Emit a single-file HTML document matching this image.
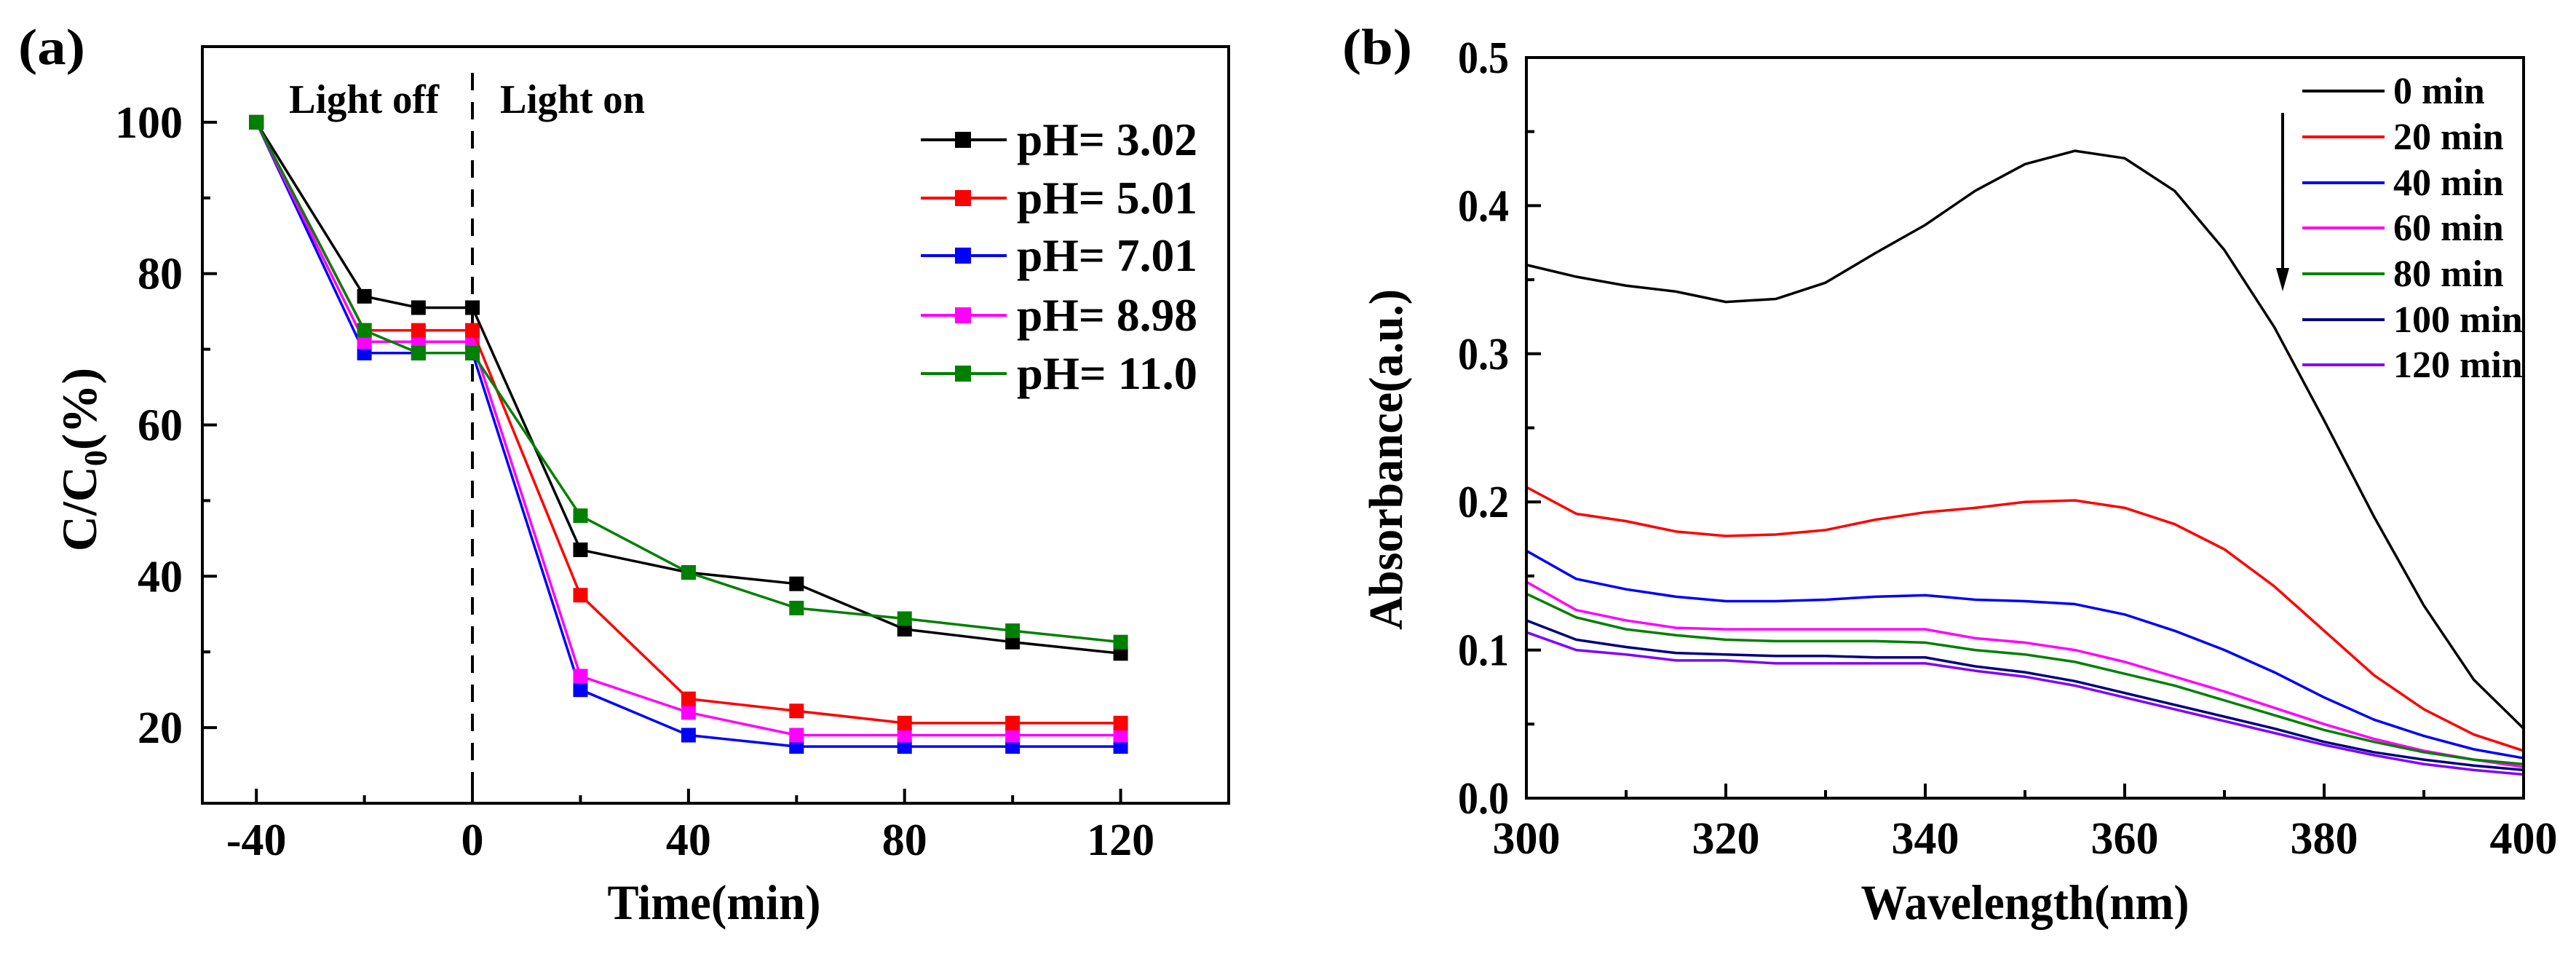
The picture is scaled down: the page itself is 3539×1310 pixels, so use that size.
<!DOCTYPE html>
<html><head><meta charset="utf-8"><style>
html,body{margin:0;padding:0;background:#fff;overflow:hidden;}
svg{display:block;}
text{font-family:"Liberation Serif",serif;font-weight:bold;fill:#000;}
</style></head><body>
<svg id="fig" width="3539" height="1310" viewBox="0 0 3539 1310" xmlns="http://www.w3.org/2000/svg"></svg>
<script>
// ---- Panel (a) data ----
const timeCats = [-40,-20,-10,0,20,40,60,80,100,120];
const seriesNamesA = ["pH= 3.02","pH= 5.01","pH= 7.01","pH= 8.98","pH= 11.0"];
const pH302 = [100,77,75.5,75.5,43.5,40.5,39,33,31.3,29.8];
const pH501 = [100,72.5,72.5,72.5,37.5,23.8,22.2,20.6,20.6,20.6];
const pH701 = [100,69.5,69.5,69.5,25,19,17.5,17.5,17.5,17.5];
const pH898 = [100,71,71,71,26.8,22,19,19,19,19];
const pH110 = [100,72.5,69.5,69.5,48,40.5,35.8,34.4,32.8,31.3];
const xTicksA = [-40,0,40,80,120];
const yTicksA = [20,40,60,80,100];
// ---- Panel (b) data ----
const wavelengths = [300,305,310,315,320,325,330,335,340,345,350,355,360,365,370,375,380,385,390,395,400];
const seriesNamesB = ["0 min","20 min","40 min","60 min","80 min","100 min","120 min"];
const abs0 = [.36,.352,.346,.342,.335,.337,.348,.368,.387,.41,.428,.437,.432,.41,.37,.318,.255,.19,.13,.08,.047];
const abs20 = [.21,.192,.187,.18,.177,.178,.181,.188,.193,.196,.2,.201,.196,.185,.168,.143,.113,.083,.06,.043,.032];
const abs40 = [.167,.148,.141,.136,.133,.133,.134,.136,.137,.134,.133,.131,.124,.113,.1,.085,.068,.053,.042,.033,.027];
const abs60 = [.146,.127,.12,.115,.114,.114,.114,.114,.114,.108,.105,.1,.092,.082,.072,.061,.05,.04,.032,.026,.021];
const abs80 = [.138,.122,.114,.11,.107,.106,.106,.106,.105,.1,.097,.092,.084,.076,.066,.056,.046,.038,.031,.026,.023];
const abs100 = [.12,.107,.102,.098,.097,.096,.096,.095,.095,.089,.085,.079,.071,.063,.055,.047,.038,.031,.026,.022,.019];
const abs120 = [.112,.1,.097,.093,.093,.091,.091,.091,.091,.086,.082,.076,.068,.06,.052,.044,.036,.029,.023,.019,.016];
const xTicksB = [300,320,340,360,380,400];
const yTicksB = [0.0,0.1,0.2,0.3,0.4,0.5];

const NS="http://www.w3.org/2000/svg";
const svg=document.getElementById('fig');
function mk(tag,attrs,parent){const e=document.createElementNS(NS,tag);for(const k in attrs)e.setAttribute(k,attrs[k]);(parent||svg).appendChild(e);return e;}
function txt(s,x,y,size,anchor,len,parent){
  const t=mk('text',{x:x,y:y,'font-size':size,'text-anchor':anchor||'start'},parent);
  t.textContent=s;
  if(len){t.setAttribute('textLength',len);t.setAttribute('lengthAdjust','spacingAndGlyphs');}
  return t;
}

// ===== Panel A =====
const A={l:278,r:1688,t:64,b:1103,x0:-50,x1:140,y0:10,y1:110};
const ax=v=>A.l+(v-A.x0)/(A.x1-A.x0)*(A.r-A.l);
const ay=v=>A.b-(v-A.y0)/(A.y1-A.y0)*(A.b-A.t);
const gA=mk('g',{});


for(let v=-40;v<=120;v+=20){const major=xTicksA.includes(v);const tk=mk('line',{x1:ax(v),x2:ax(v),y1:A.b,y2:A.b-(major?20:11),stroke:'#000','stroke-width':4},gA);}
for(let v=20;v<=100;v+=10){const major=yTicksA.includes(v);const tk=mk('line',{x1:A.l,x2:A.l+(major?20:11),y1:ay(v),y2:ay(v),stroke:'#000','stroke-width':4},gA);}
xTicksA.forEach(v=>{const t=txt(String(v),ax(v),1174,62,'middle',null,gA);});
yTicksA.forEach(v=>{const t=txt(String(v),251,ay(v)+21,62,'end',null,gA);});
const dv=mk('line',{x1:ax(0),x2:ax(0),y1:100,y2:A.b,stroke:'#000','stroke-width':4,'stroke-dasharray':'24,16'},gA);

let t1=txt('Light off',397,155,56,'start',206,gA);
let t2=txt('Light on',687,155,56,'start',199,gA);
const colorsA=['#000000','#ff0000','#0000ff','#ff00ff','#008000'];
const dataA=[pH302,pH501,pH701,pH898,pH110];
const drawOrder=[2,3,1,0,4];
drawOrder.forEach(i=>{
  const d=dataA[i];
  const g=mk('g',{},gA);
  
  
  const pl=mk('polyline',{points:d.map((v,j)=>ax(timeCats[j])+','+ay(v)).join(' '),fill:'none',stroke:colorsA[i],'stroke-width':3.5},g);
  
  d.forEach((v,j)=>{const r=mk('rect',{x:ax(timeCats[j])-10,y:ay(v)-10,width:20,height:20,fill:colorsA[i]},g);});
});
const lgA=mk('g',{},gA);

const lgY=[192,272,351,433,513];
seriesNamesA.forEach((n,i)=>{
  const e=mk('g',{},lgA);
  
  mk('line',{x1:1265,x2:1383,y1:lgY[i],y2:lgY[i],stroke:colorsA[i],'stroke-width':4},e);
  mk('rect',{x:1312,y:lgY[i]-11,width:22,height:22,fill:colorsA[i]},e);
  txt(n,1397,lgY[i]+21,64,'start',248,e);
});
const fA=mk('rect',{x:A.l,y:A.t,width:A.r-A.l,height:A.b-A.t,fill:'none',stroke:'#000','stroke-width':4},gA);

let xtA=txt('Time(min)',981,1262,68,'middle',293,gA);
const ytA=mk('text',{x:0,y:0,'font-size':68,'text-anchor':'middle',transform:'translate(132,631) rotate(-90)'},gA);

ytA.innerHTML='C/C<tspan font-size="44" dy="14">0</tspan><tspan dy="-14">(%)</tspan>';
let la=txt('(a)',25,88,70,'start',92,gA);

// ===== Panel B =====
const B={l:2097,r:3467,t:79,b:1096,x0:300,x1:400,y0:0,y1:0.5};
const bx=v=>B.l+(v-B.x0)/(B.x1-B.x0)*(B.r-B.l);
const by=v=>B.b-(v-B.y0)/(B.y1-B.y0)*(B.b-B.t);
const gB=mk('g',{});

for(let v=300;v<=400;v+=10){const major=(v%20===0);const tk=mk('line',{x1:bx(v),x2:bx(v),y1:B.b,y2:B.b-(major?20:11),stroke:'#000','stroke-width':4},gB);}
for(let k=0;k<=10;k++){const v=k*0.05;const major=(k%2===0);const tk=mk('line',{x1:B.l,x2:B.l+(major?20:11),y1:by(v),y2:by(v),stroke:'#000','stroke-width':4},gB);}
xTicksB.forEach(v=>{const t=txt(String(v),bx(v),1172,62,'middle',null,gB);});
yTicksB.forEach(v=>{const t=txt(v.toFixed(1),2073,by(v)+21,62,'end',70,gB);});
const colorsB=['#000000','#ff0000','#0000ff','#ff00ff','#008000','#000080','#8000ff'];
const dataB=[abs0,abs20,abs40,abs60,abs80,abs100,abs120];
dataB.forEach((d,i)=>{
  const pl=mk('polyline',{points:d.map((v,j)=>bx(wavelengths[j])+','+by(v)).join(' '),fill:'none',stroke:colorsB[i],'stroke-width':3.5,'stroke-linejoin':'round'},gB);
  
  
});
const lgB=mk('g',{},gB);

const lgYB=[125,188,251,313,376,439,501];
seriesNamesB.forEach((n,i)=>{
  const e=mk('g',{},lgB);
  
  mk('line',{x1:3163,x2:3276,y1:lgYB[i],y2:lgYB[i],stroke:colorsB[i],'stroke-width':4},e);
  txt(n,3288,lgYB[i]+17,52,'start',null,e);
});
const ar=mk('g',{},gB);

mk('line',{x1:3136,x2:3136,y1:155,y2:375,stroke:'#000','stroke-width':4},ar);
mk('polygon',{points:'3127,368 3145,368 3136,400',fill:'#000'},ar);
const fB=mk('rect',{x:B.l,y:B.t,width:B.r-B.l,height:B.b-B.t,fill:'none',stroke:'#000','stroke-width':4},gB);

let xtB=txt('Wavelength(nm)',2782,1262,68,'middle',451,gB);
const ytB=mk('text',{x:0,y:0,'font-size':66,'text-anchor':'middle',transform:'translate(1926,631) rotate(-90)',textLength:468,lengthAdjust:'spacingAndGlyphs'},gB);

ytB.textContent='Absorbance(a.u.)';
let lb=txt('(b)',1844,88,70,'start',96,gB);
</script>
</body></html>
